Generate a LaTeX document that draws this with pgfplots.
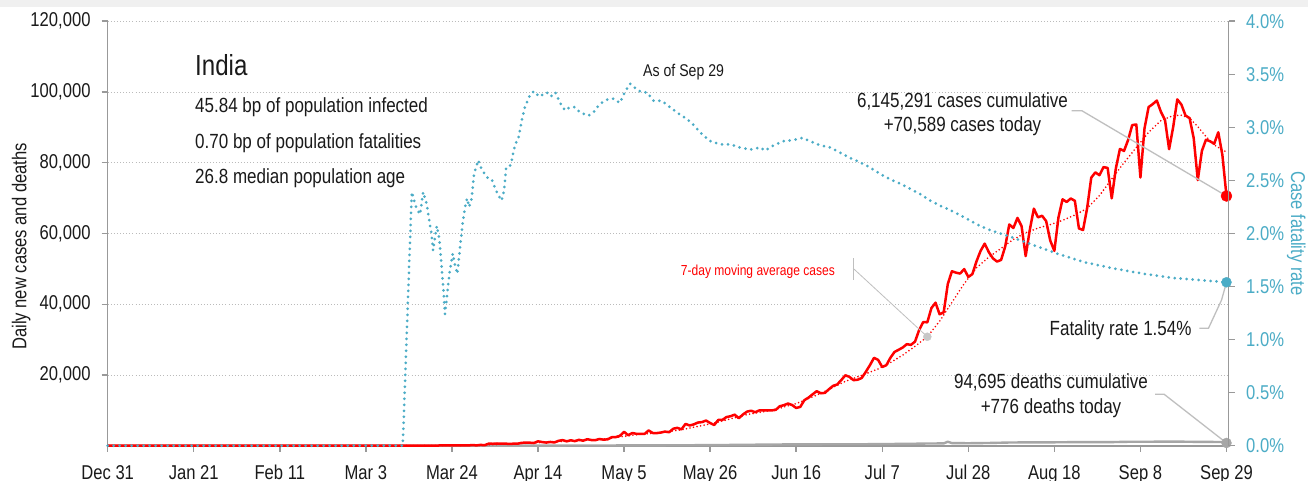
\documentclass[border=0pt]{standalone}
\usepackage{fontspec}
\setmainfont{Liberation Sans}[FakeStretch=0.83]
\usepackage{pgfplots}
\pgfplotsset{compat=1.18}
\definecolor{cred}{HTML}{FF0000}
\definecolor{cblue}{HTML}{4BACC6}
\definecolor{caxis}{HTML}{999999}
\definecolor{cgrid}{HTML}{BBBBBB}
\definecolor{cdeath}{HTML}{A6A6A6}
\definecolor{clead}{HTML}{BFBFBF}
\definecolor{ctext}{HTML}{1A1A1A}
\tikzset{lbl/.style={inner sep=0pt, text=ctext, font=\fontsize{20.5}{24}\selectfont}}
\pgfplotsset{common/.style={
  scale only axis, width=1120.8pt, height=424.5pt,
  xmin=0, xmax=273.5,
  axis x line*=bottom,
  axis line style={caxis, line width=1.6pt},
  tick align=outside, major tick length=6pt,
  tick style={caxis, line width=1.4pt},
  ticklabel style={font=\fontsize{20}{24}\selectfont},
  clip=false}}
\begin{document}
\begin{tikzpicture}[x=1pt,y=1pt]
% picture frame: image px (X,Y) -> (X-107.7, 445.7-Y)
\useasboundingbox (-107.7,-34.3) rectangle (1200.3,445.7);
\clip (-107.7,-34.3) rectangle (1200.3,445.7);
\fill[white] (-107.7,-34.3) rectangle (1200.3,445.7);
\fill[black!6] (-107.7,438.7) rectangle (1200.3,445.7);

\begin{axis}[common,
  ymin=0, ymax=120000,
  axis y line*=left,
  xtick={0,21,42,63,84,105,126,147,168,189,210,231,252,273},
  xticklabels={Dec 31,Jan 21,Feb 11,Mar 3,Mar 24,Apr 14,May 5,May 26,Jun 16,Jul 7,Jul 28,Aug 18,Sep 8,Sep 29},
  ytick={20000,40000,60000,80000,100000,120000},
  yticklabels={{20,000},{40,000},{60,000},{80,000},{100,000},{120,000}},
  scaled y ticks=false,
  ymajorgrids,
  major grid style={cgrid, line width=0.9pt, dash pattern=on 0.9pt off 2.2pt},
  xticklabel style={anchor=base, inner sep=0pt, text=ctext},
  yticklabel style={anchor=east, inner sep=0pt, text=ctext},
  xticklabel shift=28pt,
  yticklabel shift=11pt,
]
\addplot[cdeath, line width=2.4pt, line join=round] coordinates {
(0,0)(72,0)(80,1)(90,8)(95,15)(100,25)(105,35)(110,40)(115,50)(120,60)(125,75)(130,100)(135,110)(140,130)(145,150)(150,190)(155,260)(160,300)(165,360)(170,380)(175,400)(180,420)(185,420)(190,480)(195,520)(200,620)(204,650)(205,1130)(206,740)(210,700)(215,770)(220,900)(225,950)(230,950)(235,1000)(240,1030)(245,1020)(250,1130)(255,1130)(260,1170)(265,1100)(270,1060)(272,1040)(273,776)
};
\addplot[cred, line width=1.8pt, dash pattern=on 0pt off 3.6pt, line cap=round] coordinates {
(0,0)(62,0)(80,40)(85,80)(90,150)(95,380)(100,580)(105,880)(110,1180)(115,1480)(120,1720)(125,2500)(130,3250)(135,3700)(140,4500)(144,5450)(148,6400)(152,7600)(156,8800)(160,9600)(164,10600)(168,11900)(172,13800)(176,15900)(180,18200)(184,19900)(188,21700)(191,23500)(194,25600)(197,28100)(200,30800)(203,35200)(206,40500)(209,45800)(212,50300)(215,53300)(218,55800)(221,58300)(224,60200)(227,61500)(230,62500)(233,63700)(236,65200)(239,67100)(242,70700)(245,75400)(248,80000)(251,84300)(254,88600)(257,91900)(260,93300)(262,93400)(264,92600)(266,90200)(268,87400)(270,85000)(273,83000)
};
\addplot[cred, line width=2.5pt, line join=round] coordinates {
(0,0)(30,0)(31,1)(32,0)(60,0)(62,0)(63,2)(64,1)(65,22)(66,2)(67,1)(68,3)(69,5)(70,9)(71,15)(72,8)(73,11)(74,10)(75,14)(76,19)(77,26)(78,2)(79,31)(80,39)(81,63)(82,80)(83,71)(84,97)(85,90)(86,68)(87,111)(88,81)(89,184)(90,94)(91,227)(92,146)(93,601)(94,545)(95,624)(96,579)(97,609)(98,484)(99,573)(100,565)(101,813)(102,871)(103,854)(104,758)(105,1243)(106,1031)(107,886)(108,1061)(109,922)(110,1371)(111,1580)(112,1239)(113,1537)(114,1292)(115,1667)(116,1408)(117,1835)(118,1607)(119,1568)(120,1902)(121,1705)(122,1801)(123,2391)(124,2442)(125,2806)(126,3932)(127,2963)(128,3587)(129,3364)(130,3344)(131,3339)(132,4311)(133,3592)(134,3562)(135,3726)(136,3991)(137,3808)(138,4794)(139,5049)(140,4628)(141,6154)(142,5720)(143,6023)(144,6536)(145,6667)(146,7111)(147,6414)(148,5843)(149,7293)(150,7300)(151,8105)(152,8336)(153,8782)(154,7761)(155,8821)(156,9633)(157,9889)(158,9471)(159,9971)(160,9983)(161,9987)(162,9985)(163,10120)(164,11156)(165,11458)(166,11929)(167,11502)(168,10667)(169,10974)(170,12881)(171,13586)(172,14516)(173,15413)(174,14821)(175,14933)(176,15968)(177,16922)(178,17296)(179,18552)(180,19906)(181,19459)(182,18522)(183,18653)(184,19148)(185,20903)(186,22771)(187,24850)(188,24248)(189,22252)(190,22752)(191,24879)(192,26506)(193,27114)(194,27761)(195,28701)(196,28498)(197,29429)(198,32695)(199,34956)(200,34884)(201,38902)(202,40425)(203,37148)(204,37724)(205,45720)(206,49310)(207,48916)(208,48661)(209,49931)(210,47703)(211,48513)(212,52123)(213,55079)(214,57118)(215,54735)(216,52972)(217,52050)(218,52509)(219,56282)(220,62538)(221,61537)(222,64399)(223,62064)(224,53601)(225,60963)(226,66999)(227,64553)(228,65002)(229,63490)(230,57981)(231,55079)(232,64531)(233,69652)(234,68898)(235,69878)(236,69239)(237,61408)(238,60975)(239,67151)(240,75760)(241,77266)(242,76472)(243,78761)(244,78512)(245,69921)(246,78357)(247,83883)(248,83341)(249,86432)(250,90632)(251,90802)(252,75809)(253,89706)(254,95735)(255,96551)(256,97570)(257,94372)(258,92071)(259,83809)(260,90123)(261,97894)(262,96424)(263,93337)(264,92605)(265,86961)(266,75083)(267,83347)(268,86508)(269,86052)(270,85362)(271,88600)(272,82170)(273,70589)
};
\draw[clead, line width=1.3pt] (axis cs:235.2,94700) -- (axis cs:237.7,94700) -- (axis cs:273,70589);
\draw[clead, line width=0.8pt] (axis cs:181.9,53000) -- (axis cs:181.9,46840);
\draw[clead, line width=0.8pt] (axis cs:181.9,50150) -- (axis cs:200,30800);
\draw[clead, line width=1.3pt] (axis cs:255.6,14530) -- (axis cs:257.8,14530) -- (axis cs:273,776);
\addplot[only marks, mark=*, mark size=4pt, color=black!22] coordinates {(200,30800)};
\addplot[only marks, mark=*, mark size=5.5pt, cred] coordinates {(273,70589)};
\addplot[only marks, mark=*, mark size=5pt, cdeath] coordinates {(273,776)};
\end{axis}

\begin{axis}[common,
  ymin=0, ymax=4,
  axis y line*=right,
  x axis line style={draw=none}, xtick=\empty,
  ytick={0,0.5,1,1.5,2,2.5,3,3.5,4},
  yticklabels={0.0\%,0.5\%,1.0\%,1.5\%,2.0\%,2.5\%,3.0\%,3.5\%,4.0\%},
  yticklabel style={anchor=west, inner sep=0pt, text=cblue},
  yticklabel shift=11.5pt,
]
\addplot[cblue, line width=3pt, dash pattern=on 0pt off 6pt, line cap=round] coordinates {
(0,0)(72.0,0)(74.2,2.39)(74.6,2.34)(75.0,2.28)(75.4,2.23)(76.2,2.18)(77.0,2.39)(77.8,2.28)(78.6,2.09)(79.0,2.00)(79.4,1.84)(80.3,2.07)(80.9,1.95)(81.5,1.68)(81.9,1.49)(82.3,1.24)(82.7,1.37)(83.1,1.53)(83.5,1.65)(84.2,1.81)(84.7,1.71)(85.3,1.62)(85.9,1.84)(86.6,2.09)(87.2,2.25)(87.7,2.33)(88.2,2.25)(88.8,2.33)(89.4,2.56)(90.4,2.69)(91.2,2.61)(92.5,2.53)(93.7,2.51)(94.5,2.43)(95.3,2.36)(96.1,2.31)(96.7,2.40)(97.2,2.61)(98.0,2.62)(98.6,2.69)(99.4,2.84)(100.2,2.89)(101.0,3.06)(101.8,3.19)(103.0,3.30)(104.0,3.34)(105.3,3.29)(106.3,3.31)(107.1,3.33)(108.1,3.29)(109.2,3.33)(110.4,3.23)(111.6,3.16)(112.8,3.19)(114.0,3.19)(115.3,3.14)(117.3,3.11)(118.5,3.14)(120.1,3.22)(121.8,3.26)(123.4,3.27)(125.0,3.23)(126.3,3.34)(127.5,3.41)(128.7,3.37)(130.3,3.33)(131.6,3.33)(133.2,3.25)(135.2,3.25)(137.2,3.19)(139.3,3.13)(141.3,3.08)(143.3,3.01)(144.6,2.95)(147.0,2.87)(149.5,2.84)(151.9,2.84)(154.3,2.81)(156.8,2.79)(159.2,2.81)(160.4,2.78)(162.5,2.83)(164.9,2.87)(167.4,2.88)(169.4,2.90)(171.4,2.87)(173.9,2.83)(176.3,2.81)(178.8,2.76)(181.2,2.71)(183.6,2.67)(186.1,2.62)(188.5,2.56)(190.9,2.51)(193.4,2.47)(195.8,2.42)(198.3,2.37)(200.7,2.31)(203.2,2.26)(205.6,2.22)(208.1,2.17)(210.5,2.12)(212.9,2.07)(215.4,2.03)(217.8,2.00)(219.5,1.98)(225.2,1.90)(231.7,1.81)(238.2,1.73)(245.5,1.67)(252.8,1.62)(260.1,1.58)(266.7,1.56)(273,1.54)
};
\draw[clead, line width=1.3pt] (axis cs:266.4,1.106) -- (axis cs:268.6,1.106) -- (axis cs:271.8,1.373) -- (axis cs:273,1.54);
\addplot[only marks, mark=*, mark size=5pt, cblue] coordinates {(273,1.54)};
\end{axis}

\begin{scope}[shift={(-107.7,445.7)}, yscale=-1]
\node[lbl, anchor=base west, font=\fontsize{29}{34}\selectfont] at (195,76) {India};
\node[lbl, anchor=base west] at (195,112.3) {45.84 bp of population infected};
\node[lbl, anchor=base west] at (195,148.3) {0.70 bp of population fatalities};
\node[lbl, anchor=base west] at (195,183.3) {26.8 median population age};
\node[lbl, anchor=base west, font=\fontsize{17}{20}\selectfont] at (643,77) {As of Sep 29};
\node[lbl, anchor=base] at (962.5,108) {6,145,291 cases cumulative};
\node[lbl, anchor=base] at (962.5,132) {+70,589 cases today};
\node[lbl, anchor=base east, font=\fontsize{14.5}{17}\selectfont, text=cred] at (835,275) {7-day moving average cases};
\node[lbl, anchor=base east] at (1191.7,335) {Fatality rate 1.54\%};
\node[lbl, anchor=base] at (1051,388) {94,695 deaths cumulative};
\node[lbl, anchor=base] at (1051,413.3) {+776 deaths today};
\end{scope}
\node[lbl, rotate=90, anchor=base west, font=\fontsize{20}{24}\selectfont] at (-81.2,95.7) {Daily new cases and deaths};
\node[lbl, rotate=-90, anchor=base, font=\fontsize{20}{24}\selectfont, text=cblue] at (1183.3,212.2) {Case fatality rate};
\end{tikzpicture}
\end{document}
